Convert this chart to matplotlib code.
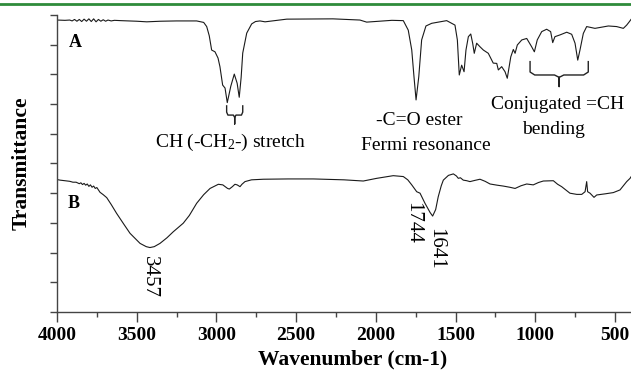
import numpy as np
import matplotlib
matplotlib.use("Agg")
import matplotlib.pyplot as plt
from matplotlib.lines import Line2D
from matplotlib.ticker import MultipleLocator

plt.rcParams['font.family'] = ['Liberation Serif', 'DejaVu Serif']
plt.rcParams['mathtext.fontset'] = 'custom'
plt.rcParams['mathtext.rm'] = 'Liberation Serif'
plt.rcParams['mathtext.it'] = 'Liberation Serif:italic'

# -----------------------------
# Spectrum A
# -----------------------------
wn_a = [4000, 3950, 3920, 3905, 3890, 3875, 3860, 3845, 3830, 3815, 3800, 3785,
        3770, 3755, 3740, 3725, 3710, 3695, 3680, 3660, 3640, 3600, 3550, 3500,
        3437, 3350, 3250, 3124, 3080, 3061, 3045, 3030, 3009, 2990, 2978, 2961,
        2946, 2932, 2910, 2888, 2870, 2857, 2845, 2835, 2810, 2779, 2755, 2727,
        2695, 2559, 2269, 2100, 2058, 1900, 1828, 1797, 1775, 1761, 1748, 1731,
        1713, 1686, 1650, 1556, 1504, 1489, 1477, 1462, 1447, 1435, 1420, 1405,
        1393, 1383, 1368, 1347, 1326, 1295, 1264, 1242, 1232, 1211, 1190, 1176,
        1154, 1138, 1127, 1113, 1085, 1054, 1023, 1006, 988, 960, 929, 904, 891,
        877, 845, 803, 772, 751, 734, 720, 699, 678, 626, 584, 542, 490, 448,
        427, 411, 400]
t_a = [9.83, 9.82, 9.83, 9.80, 9.85, 9.79, 9.85, 9.78, 9.86, 9.79, 9.87, 9.78,
       9.87, 9.77, 9.85, 9.79, 9.84, 9.79, 9.83, 9.80, 9.82, 9.81, 9.80, 9.79,
       9.77, 9.79, 9.80, 9.80, 9.75, 9.61, 9.30, 8.82, 8.76, 8.55, 8.26, 7.64,
       7.54, 7.05, 7.60, 8.01, 7.70, 7.23, 7.90, 8.72, 9.39, 9.70, 9.78, 9.80,
       9.77, 9.86, 9.87, 9.83, 9.76, 9.82, 9.81, 9.49, 8.82, 7.92, 7.14, 7.92,
       9.16, 9.63, 9.72, 9.81, 9.66, 9.16, 7.98, 8.31, 8.09, 8.82, 9.27, 9.36,
       9.05, 8.71, 9.05, 8.93, 8.82, 8.71, 8.38, 8.37, 8.15, 8.26, 8.09, 7.87,
       8.59, 8.84, 8.71, 8.99, 9.16, 9.21, 8.93, 8.76, 9.16, 9.44, 9.52, 9.44, 9.07,
       9.27, 9.33, 9.42, 9.35, 9.05, 8.48, 8.82, 9.38, 9.61, 9.55, 9.59, 9.63, 9.61,
       9.55, 9.66, 9.77, 9.85]

# -----------------------------
# Spectrum B
# -----------------------------
wn_b = [4000, 3981, 3950, 3920, 3900, 3880, 3860, 3850, 3840, 3830, 3820, 3810,
        3800, 3790, 3780, 3770, 3760, 3750, 3740, 3730, 3710, 3688, 3660, 3626,
        3580, 3542, 3479, 3440, 3417, 3390, 3354, 3310, 3271, 3208, 3170, 3124,
        3080, 3040, 2988, 2960, 2930, 2919, 2900, 2884, 2870, 2852, 2840, 2821,
        2780, 2706, 2550, 2392, 2200, 2079, 1995, 1891, 1828, 1800, 1775, 1744,
        1723, 1692, 1660, 1644, 1625, 1609, 1590, 1577, 1545, 1514, 1495, 1483,
        1470, 1452, 1430, 1410, 1380, 1347, 1315, 1284, 1240, 1201, 1160, 1127,
        1090, 1054, 1013, 980, 950, 887, 860, 835, 783, 740, 709, 688, 678, 672,
        657, 632, 615, 560, 511, 469, 427, 406, 400]
t_b = [4.46, 4.44, 4.42, 4.40, 4.37, 4.37, 4.32, 4.35, 4.29, 4.33, 4.27, 4.31,
       4.23, 4.28, 4.20, 4.24, 4.16, 4.19, 4.11, 4.03, 3.95, 3.85, 3.62, 3.32,
       2.95, 2.65, 2.31, 2.20, 2.17, 2.20, 2.31, 2.50, 2.70, 2.99, 3.25, 3.66,
       3.95, 4.16, 4.30, 4.28, 4.16, 4.14, 4.22, 4.30, 4.28, 4.22, 4.30, 4.39,
       4.45, 4.47, 4.48, 4.48, 4.45, 4.41, 4.50, 4.59, 4.56, 4.45, 4.28, 4.05,
       4.00, 3.66, 3.35, 3.23, 3.45, 3.88, 4.25, 4.44, 4.60, 4.65, 4.58, 4.50,
       4.52, 4.44, 4.42, 4.39, 4.43, 4.47, 4.40, 4.31, 4.27, 4.24, 4.20, 4.16,
       4.25, 4.31, 4.28, 4.36, 4.41, 4.42, 4.30, 4.22, 4.00, 3.96, 3.96, 4.05, 4.39, 4.05,
       4.00, 3.86, 3.94, 3.98, 4.02, 4.11, 4.39, 4.50, 4.55]

x_ticks = [4000, 3500, 3000, 2500, 2000, 1500, 1000, 500]


def brace(ax, x0, x1, ytop, ymid, ytip):
    # simple curly bracket below a group of peaks
    xc = (x0 + x1) / 2
    dx = (x0 - x1) * 0.08
    xs = [x0, x0, x0 - dx, xc + dx, xc, xc, xc, xc - dx, x1 + dx, x1, x1]
    ys = [ytop, ymid + 0.1, ymid, ymid, ymid - 0.08, ytip, ymid - 0.08, ymid, ymid, ymid + 0.1, ytop]
    ax.plot(xs, ys, color="#222222", lw=1.0, solid_joinstyle="round")


fig = plt.figure(figsize=(6.31, 3.72), dpi=100)
ax = fig.add_axes([0.0903, 0.1613, 0.9097, 0.7984])

ax.plot(wn_a, t_a, color="#1a1a1a", lw=0.8)
ax.plot(wn_b, t_b, color="#1a1a1a", lw=0.8)

ax.set_xlim(4000, 400)
ax.set_ylim(0, 10)
ax.set_xticks(x_ticks)
ax.xaxis.set_minor_locator(MultipleLocator(250))
ax.set_yticks(range(11))
ax.set_yticklabels([])
ax.tick_params(axis="x", which="major", direction="out", length=7, width=1.0,
               labelsize=14, pad=4, color="#444444")
ax.tick_params(axis="x", which="minor", direction="out", length=3.5, width=1.0,
               color="#444444")
ax.tick_params(axis="y", direction="out", length=5, width=1.0, color="#444444")
for lbl in ax.get_xticklabels():
    lbl.set_fontweight("bold")

for s in ["top", "right"]:
    ax.spines[s].set_visible(False)
for s in ["left", "bottom"]:
    ax.spines[s].set_color("#444444")
    ax.spines[s].set_linewidth(1.0)

ax.set_xlabel("Wavenumber (cm-1)", fontsize=15.5, fontweight="bold")
ax.xaxis.set_label_coords(0.515, -0.125)
ax.set_ylabel("Transmittance", fontsize=15.5, fontweight="bold")
ax.yaxis.set_label_coords(-0.045, 0.5)

ax.text(3887, 9.06, "A", fontsize=13, fontweight="bold", ha="center", va="center")
ax.text(3893, 3.64, "B", fontsize=13, fontweight="bold", ha="center", va="center")

ax.text(2909, 5.72, "CH (-CH$_2$-) stretch", fontsize=14, ha="center", va="center")
ax.text(1730, 6.46, "-C=O ester", fontsize=14, ha="center", va="center")
ax.text(1686, 5.62, "Fermi resonance", fontsize=14, ha="center", va="center")
ax.text(861, 6.99, "Conjugated =CH", fontsize=14, ha="center", va="center")
ax.text(889, 6.13, "bending", fontsize=14, ha="center", va="center")

ax.text(3420, 1.18, "3457", fontsize=15, rotation=-90, ha="center", va="center")
ax.text(1770, 3.01, "1744", fontsize=15, rotation=-90, ha="center", va="center")
ax.text(1626, 2.14, "1641", fontsize=15, rotation=-90, ha="center", va="center")

brace(ax, 2936, 2835, 6.94, 6.63, 6.33)
brace(ax, 1033, 668, 8.43, 7.98, 7.59)

fig.add_artist(Line2D([0, 1], [0.989, 0.989], transform=fig.transFigure,
                      color="#2e8b3a", lw=2.0))

plt.savefig("out.png", dpi=100)
